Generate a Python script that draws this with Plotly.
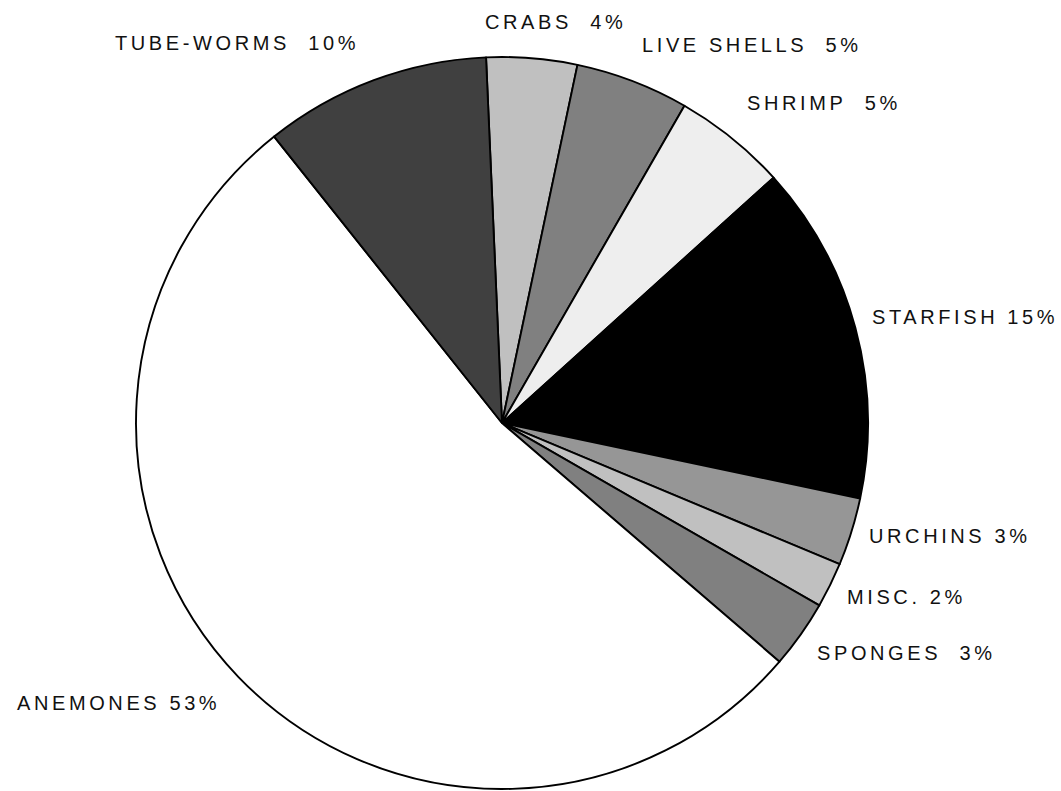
import plotly.graph_objects as go

# Data (clockwise from 12 o'clock)
categories = ["CRABS", "LIVE SHELLS", "SHRIMP", "STARFISH", "URCHINS",
              "MISC.", "SPONGES", "ANEMONES", "TUBE-WORMS"]
values = [4, 5, 5, 15, 3, 2, 3, 53, 10]
label_texts = ["CRABS  4%", "LIVE SHELLS  5%", "SHRIMP  5%", "STARFISH 15%",
               "URCHINS 3%", "MISC. 2%", "SPONGES  3%", "ANEMONES 53%",
               "TUBE-WORMS  10%"]

# Styles / layout
colors = ["#c0c0c0", "#808080", "#eeeeee", "#000000", "#969696",
          "#c0c0c0", "#808080", "#ffffff", "#404040"]
# label anchor positions in pixels (left edge, vertical centre)
label_px = [(483, 22), (640, 45), (745, 103), (870, 317), (867, 536),
            (845, 597), (815, 653), (15, 703), (113, 43)]

W, H = 1061, 791
cx, cy, r = 502, 423, 366

fig = go.Figure(go.Pie(
    labels=categories,
    values=values,
    sort=False,
    direction="clockwise",
    rotation=-2.5,
    marker=dict(colors=colors, line=dict(color="black", width=1.9)),
    textinfo="none",
    hoverinfo="skip",
    showlegend=False,
    domain=dict(x=[(cx - r) / W, (cx + r) / W],
                y=[(H - cy - r) / H, (H - cy + r) / H]),
))

for txt, (px, py) in zip(label_texts, label_px):
    fig.add_annotation(
        x=px / W, y=1 - py / H, xref="paper", yref="paper",
        xanchor="left", yanchor="middle", showarrow=False,
        text='<span style="letter-spacing:3.6px">' + txt.replace(" ", "&nbsp;") + "</span>",
        font=dict(family="Liberation Sans, Arial, sans-serif", size=20, color="#111111"),
    )

fig.update_layout(
    width=W, height=H,
    margin=dict(l=0, r=0, t=0, b=0),
    paper_bgcolor="white", plot_bgcolor="white",
)

fig.write_html("out.html",
               config={"displayModeBar": False},
               post_script="document.body.style.margin='0';document.body.style.overflow='hidden';")
